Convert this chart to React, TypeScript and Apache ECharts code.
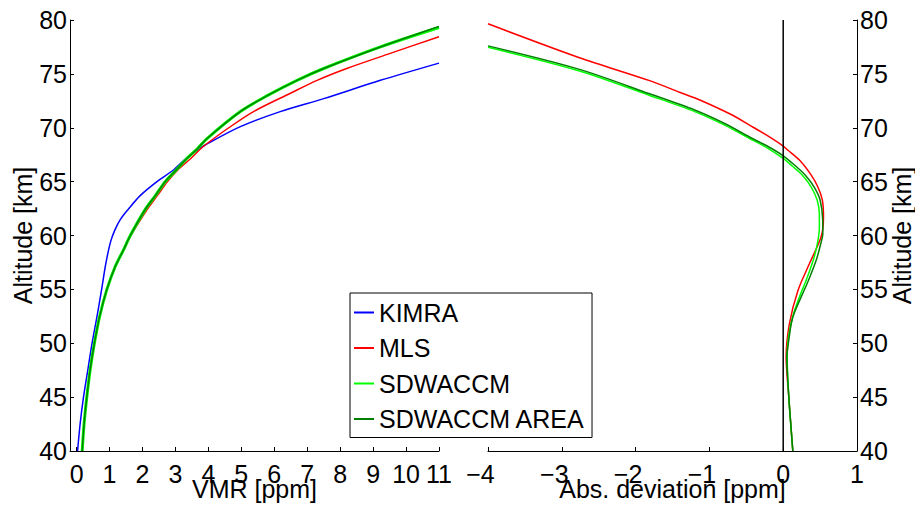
import React, { useEffect, useRef } from "react";
import * as echarts from "echarts";

const FONT = '"Liberation Sans", Arial, Helvetica, sans-serif';

// ---- Left panel: VMR [ppm] vs altitude [km]
const kimraAlt = [40, 42.6, 45, 47.5, 50, 52.5, 55, 57.1, 58.5, 59.5, 60.5, 61.5, 62.4, 63.7, 65, 66.1, 67.1, 68.0, 68.4, 70.1, 71.5, 72.7, 74.4, 76.0];
const kimraVmr = [0.03, 0.11, 0.21, 0.34, 0.47, 0.62, 0.76, 0.87, 0.96, 1.04, 1.16, 1.33, 1.56, 1.93, 2.44, 2.95, 3.3, 3.7, 3.9, 4.97, 6.18, 7.5, 9.22, 11.0];

const mlsAlt = [40, 42.6, 45, 47.5, 50, 52.5, 55, 57.1, 58.7, 60, 62.4, 63.7, 65, 66.1, 67.1, 68.0, 68.4, 70, 71.5, 73.2, 74.4, 75.5, 76.9, 78.45];
const mlsVmr = [0.17, 0.23, 0.31, 0.41, 0.54, 0.7, 0.92, 1.18, 1.44, 1.65, 2.14, 2.45, 2.76, 3.08, 3.45, 3.75, 3.9, 4.62, 5.37, 6.49, 7.3, 8.2, 9.52, 11.0];

const sdAlt = [40, 42.6, 45, 47.5, 50, 52.5, 55, 57.1, 58.7, 60, 62.4, 63.7, 65, 66.1, 67.1, 68.0, 69.0, 71.5, 73.0, 74.4, 75.5, 77.5, 79.3];
const sdVmr = [0.17, 0.23, 0.31, 0.41, 0.54, 0.7, 0.92, 1.17, 1.43, 1.63, 2.08, 2.39, 2.69, 3.03, 3.33, 3.65, 3.96, 4.97, 5.8, 6.69, 7.5, 9.22, 11.0];

const sdAreaAlt = [40, 42.6, 45, 47.5, 50, 52.5, 55, 57.1, 58.7, 60, 62.4, 63.7, 65, 66.1, 67.1, 68.0, 69.0, 71.5, 73.0, 74.4, 75.5, 77.5, 79.4];
const sdAreaVmr = [0.17, 0.23, 0.31, 0.41, 0.54, 0.7, 0.92, 1.17, 1.43, 1.63, 2.08, 2.39, 2.69, 3.03, 3.33, 3.65, 3.96, 4.97, 5.8, 6.69, 7.5, 9.22, 11.0];

// ---- Right panel: absolute deviation [ppm] vs altitude [km]
const mlsDevAlt = [40, 42, 45, 48.75, 51.85, 54.9, 57.4, 59.9, 61.75, 63.3, 64.5, 65.6, 67.0, 67.93, 68.3, 69.33, 70.25, 71.18, 72.58, 73.3, 74.37, 76.5, 79.65];
const mlsDev = [0.13, 0.108, 0.076, 0.04, 0.085, 0.2, 0.356, 0.515, 0.546, 0.53, 0.47, 0.38, 0.22, 0.06, 0.0, -0.23, -0.457, -0.69, -1.13, -1.405, -1.81, -2.76, -4.0];

const sdDevAlt = [40, 42, 45, 48.75, 50.5, 52.5, 54.3, 56.0, 58.0, 59.5, 60.8, 62.0, 63.3, 64.5, 65.6, 66.4, 67.15, 68.18, 69.0, 70.2, 71.5, 73.0, 75.27, 77.47];
const sdDev = [0.13, 0.108, 0.076, 0.054, 0.07, 0.13, 0.22, 0.32, 0.42, 0.47, 0.49, 0.49, 0.46, 0.38, 0.26, 0.13, 0.0, -0.23, -0.457, -0.78, -1.2, -1.81, -2.76, -4.0];

const sdAreaDevAlt = [40, 42, 45, 48.75, 50.0, 51.85, 52.8, 54.3, 55.8, 57.7, 59.0, 60.2, 61.5, 63.3, 64.5, 65.6, 66.5, 67.4, 68.35, 69.14, 70.35, 71.65, 73.15, 75.42, 77.6];
const sdAreaDev = [0.13, 0.108, 0.076, 0.05, 0.07, 0.11, 0.15, 0.244, 0.34, 0.447, 0.5, 0.537, 0.535, 0.5, 0.42, 0.3, 0.16, 0.0, -0.23, -0.457, -0.78, -1.2, -1.81, -2.76, -4.0];

const zeroLineDev = [0, 0];
const zeroLineAlt = [40, 80];

const vmrTicks = [0, 1, 2, 3, 4, 5, 6, 7, 8, 9, 10, 11];
const legendNames = ["KIMRA", "MLS", "SDWACCM", "SDWACCM AREA"];

const BLUE = "#0000ff";
const RED = "#ff0000";
const LGREEN = "#00ff00";
const DGREEN = "#008000";

const zip = (xs: number[], ys: number[]) => xs.map((x, i) => [x, ys[i]]);

const labelStyle = { color: "#000", fontSize: 25, fontFamily: FONT };

function xAxisBase(gridIndex: number, name: string) {
  return {
    gridIndex,
    type: "value",
    name,
    nameLocation: "middle",
    nameGap: 29,
    nameMoveOverlap: false,
    nameTextStyle: { ...labelStyle, lineHeight: 18 },
    axisLine: { show: true, onZero: false, lineStyle: { color: "#000", width: 1 } },
    axisTick: { show: true, inside: true, length: 4, lineStyle: { color: "#000", width: 1 } },
    splitLine: { show: false },
  };
}

function yAxisBase(gridIndex: number, position: string) {
  return {
    gridIndex,
    type: "value",
    position,
    min: 40,
    max: 80,
    interval: 5,
    axisLine: { show: true, onZero: false, lineStyle: { color: "#000", width: 1 } },
    axisTick: { show: true, inside: true, length: 4, lineStyle: { color: "#000", width: 1 } },
    axisLabel: { ...labelStyle, margin: 3 },
    splitLine: { show: false },
  };
}

function lineSeries(name: string, color: string, width: number, data: number[][], axis: number) {
  return {
    name,
    type: "line",
    xAxisIndex: axis,
    yAxisIndex: axis,
    data,
    symbol: "none",
    showSymbol: false,
    smooth: 0.3,
    clip: true,
    lineStyle: { color, width },
    itemStyle: { color },
    emphasis: { disabled: true },
  };
}

export default function App() {
  const ref = useRef<HTMLDivElement>(null);
  useEffect(() => {
    const chart = echarts.init(ref.current!, null, { renderer: "svg" });
    const option: any = {
      animation: false,
      backgroundColor: "#fff",
      grid: [
        { left: 70, top: 20, width: 369, height: 431, outerBoundsMode: "none", containLabel: false },
        { left: 488, top: 20, width: 369, height: 431, outerBoundsMode: "none", containLabel: false },
      ],
      xAxis: [
        {
          ...xAxisBase(0, "VMR [ppm]"),
          min: -0.2,
          max: 11,
          axisTick: { show: true, inside: true, length: 4, customValues: vmrTicks, lineStyle: { color: "#000", width: 1 } },
          axisLabel: { ...labelStyle, lineHeight: 18, margin: 14, customValues: vmrTicks },
        },
        {
          ...xAxisBase(1, "Abs. deviation [ppm]"),
          min: -4,
          max: 1,
          interval: 1,
          axisLabel: {
            ...labelStyle,
            lineHeight: 18,
            margin: 14,
            formatter: (v: number) => (v < 0 ? `{neg|\u2212${Math.abs(v)}}` : `${v}`),
            rich: { neg: { ...labelStyle, lineHeight: 18, padding: [0, 15, 0, 0] } },
          },
        },
      ],
      yAxis: [yAxisBase(0, "left"), yAxisBase(1, "right")],
      legend: {
        data: legendNames,
        orient: "vertical",
        left: 350,
        top: 293,
        padding: [7, 7, 6, 4],
        itemGap: 10.5,
        itemWidth: 20,
        itemHeight: 2,
        icon: "rect",
        borderColor: "#000",
        borderWidth: 1,
        borderRadius: 0,
        backgroundColor: "#fff",
        selectedMode: false,
        textStyle: { ...labelStyle, lineHeight: 25 },
      },
      graphic: [
        {
          type: "text",
          x: 23,
          y: 235.5,
          rotation: Math.PI / 2,
          style: { text: "Altitude [km]", fill: "#000", fontSize: 25, fontFamily: FONT, align: "center", verticalAlign: "middle" },
        },
        {
          type: "text",
          x: 902,
          y: 235.5,
          rotation: Math.PI / 2,
          style: { text: "Altitude [km]", fill: "#000", fontSize: 25, fontFamily: FONT, align: "center", verticalAlign: "middle" },
        },
      ],
      series: [
        lineSeries("KIMRA", BLUE, 1.5, zip(kimraVmr, kimraAlt), 0),
        lineSeries("MLS", RED, 1.5, zip(mlsVmr, mlsAlt), 0),
        lineSeries("SDWACCM", LGREEN, 3, zip(sdVmr, sdAlt), 0),
        lineSeries("SDWACCM AREA", DGREEN, 1.5, zip(sdAreaVmr, sdAreaAlt), 0),
        lineSeries("MLS", RED, 1.5, zip(mlsDev, mlsDevAlt), 1),
        lineSeries("SDWACCM", LGREEN, 1.5, zip(sdDev, sdDevAlt), 1),
        lineSeries("SDWACCM AREA", DGREEN, 1.5, zip(sdAreaDev, sdAreaDevAlt), 1),
        { ...lineSeries("zero", "#000", 1.5, zip(zeroLineDev, zeroLineAlt), 1), smooth: false, silent: true },
      ],
    };
    chart.setOption(option);
    return () => chart.dispose();
  }, []);
  return <div ref={ref} style={{ position: "fixed", left: 0, top: 0, width: 915, height: 506 }} />;
}
